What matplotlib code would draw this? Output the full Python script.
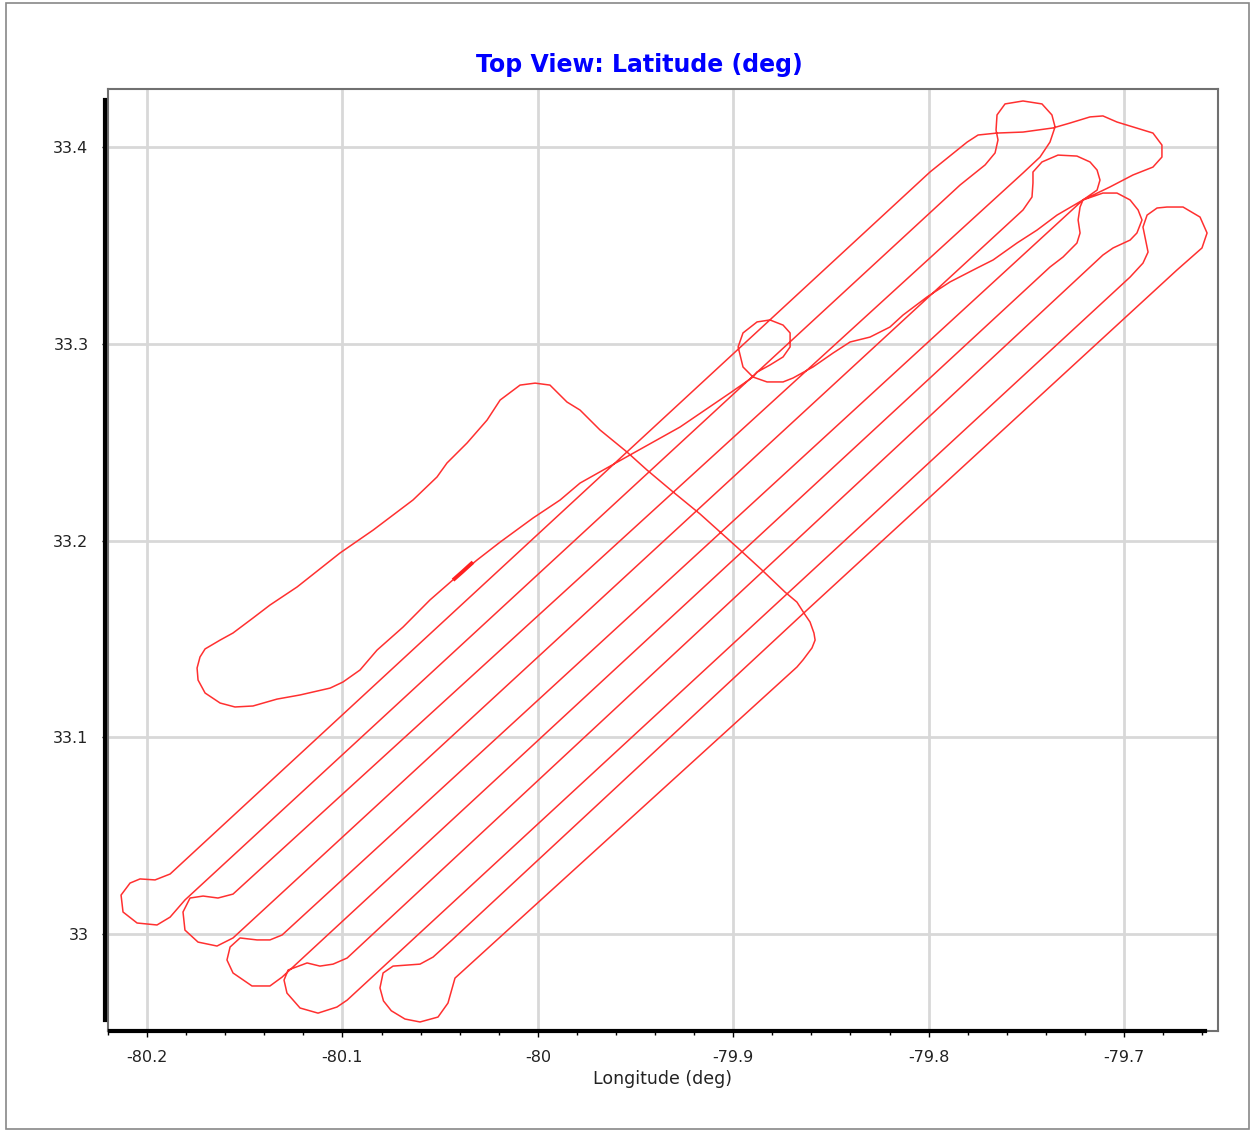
import matplotlib
matplotlib.use("Agg")
import matplotlib.pyplot as plt
from matplotlib.ticker import MultipleLocator, FormatStrFormatter
from matplotlib.patches import Rectangle

# flight track (deg)
lon = [-80.0424, -80.0552, -80.0690, -80.0823, -80.0910, -80.0997, -80.1063, -80.1217, -80.1335, -80.1458,
       -80.1550, -80.1626, -80.1703, -80.1739, -80.1744, -80.1729, -80.1703, -80.1626, -80.1560, -80.1458,
       -80.1371, -80.1232, -80.1012, -80.0843, -80.0639, -80.0516, -80.0465, -80.0362, -80.0260, -80.0193,
       -80.0091, -80.0014, -79.9938, -79.9851, -79.9784, -79.9682, -79.9544, -79.9441, -79.9308, -79.9170,
       -79.8965, -79.8853, -79.8735, -79.8674, -79.8638, -79.8607, -79.8587, -79.8581, -79.8597, -79.8643,
       -79.8674,
       -80.0362, -80.0424, -80.0460, -80.0511, -80.0603, -80.0680, -80.0750, -80.0790, -80.0808, -80.0792,
       -80.0741, -80.0603, -80.0536, -80.0439,
       -79.8633, -79.6729, -79.6601, -79.6575, -79.6611, -79.6698, -79.6780, -79.6831, -79.6882, -79.6903,
       -79.6877, -79.6903, -79.6969,
       -80.0976, -80.1028, -80.1125, -80.1217, -80.1284, -80.1299, -80.1278, -80.1181, -80.1115, -80.1048,
       -80.0976,
       -79.7108, -79.7056, -79.6969, -79.6934, -79.6908, -79.6928, -79.6969, -79.7036, -79.7108, -79.7210,
       -79.7225, -79.7235, -79.7225, -79.7241, -79.7312, -79.7379,
       -80.1309, -80.1371, -80.1463, -80.1560, -80.1591, -80.1575, -80.1524, -80.1437, -80.1371, -80.1309,
       -79.7210, -79.7138, -79.7123, -79.7138, -79.7174, -79.7241, -79.7338, -79.7420, -79.7466, -79.7466,
       -79.7471, -79.7517,
       -80.1560, -80.1642, -80.1739, -80.1806, -80.1816, -80.1780, -80.1713, -80.1637, -80.1560,
       -79.7517, -79.7430, -79.7379, -79.7353, -79.7369, -79.7420, -79.7517, -79.7609, -79.7650, -79.7655,
       -79.7645, -79.7660, -79.7711, -79.7839,
       -80.1806, -80.1882, -80.1949, -80.2051, -80.2123, -80.2133, -80.2087, -80.2036, -80.1959, -80.1882,
       -79.7993, -79.7803, -79.7747, -79.7650, -79.7517, -79.7363, -79.7276, -79.7174, -79.7108, -79.7036,
       -79.6852, -79.6806, -79.6806, -79.6852, -79.6954, -79.7072, -79.7210, -79.7343, -79.7445, -79.7548,
       -79.7670, -79.7752, -79.7891, -79.8008, -79.8131, -79.8198, -79.8300, -79.8402, -79.8489, -79.8592,
       -79.8694, -79.8745, -79.8827, -79.8899,
       -79.8950, -79.8975, -79.8950, -79.8878, -79.8812, -79.8745, -79.8709, -79.8709, -79.8745, -79.8812,
       -79.8878, -79.8899,
       -79.9016, -79.9272, -79.9528, -79.9784, -79.9886, -80.0025, -80.0193, -80.0311, -80.0424]
lat = [33.1809, 33.1698, 33.1560, 33.1443, 33.1342, 33.1281, 33.1250, 33.1215, 33.1194, 33.1159,
       33.1154, 33.1174, 33.1225, 33.1291, 33.1352, 33.1408, 33.1449, 33.1494, 33.1530, 33.1606,
       33.1672, 33.1764, 33.1937, 33.2053, 33.2206, 33.2323, 33.2394, 33.2496, 33.2612, 33.2714,
       33.2790, 33.2800, 33.2790, 33.2704, 33.2663, 33.2562, 33.2450, 33.2358, 33.2247, 33.2135,
       33.1952, 33.1850, 33.1738, 33.1687, 33.1631, 33.1586, 33.1530, 33.1494, 33.1454, 33.1393,
       33.1357,
       32.9832, 32.9776, 32.9649, 32.9578, 32.9553, 32.9568, 32.9610, 32.9660, 32.9726, 32.9802,
       32.9837, 32.9847, 32.9883, 32.9970,
       33.1637, 33.3375, 33.3487, 33.3563, 33.3644, 33.3695, 33.3695, 33.3690, 33.3654, 33.3593,
       33.3466, 33.3410, 33.3339,
       32.9664, 32.9629, 32.9598, 32.9624, 32.9700, 32.9766, 32.9817, 32.9853, 32.9837, 32.9847,
       32.9878,
       33.3451, 33.3487, 33.3527, 33.3563, 33.3629, 33.3680, 33.3731, 33.3766, 33.3766, 33.3731,
       33.3695, 33.3629, 33.3563, 33.3512, 33.3441, 33.3390,
       32.9781, 32.9736, 32.9736, 32.9802, 32.9868, 32.9934, 32.9980, 32.9970, 32.9970, 32.9995,
       33.3731, 33.3781, 33.3832, 33.3883, 33.3924, 33.3954, 33.3959, 33.3924, 33.3873, 33.3817,
       33.3746, 33.3680,
       32.9980, 32.9939, 32.9959, 33.0020, 33.0112, 33.0183, 33.0193, 33.0183, 33.0203,
       33.3868, 33.3949, 33.4025, 33.4102, 33.4163, 33.4219, 33.4234, 33.4219, 33.4163, 33.4086,
       33.4036, 33.3970, 33.3909, 33.3807,
       33.0173, 33.0086, 33.0046, 33.0056, 33.0112, 33.0198, 33.0259, 33.0280, 33.0275, 33.0305,
       33.3873, 33.4025, 33.4061, 33.4071, 33.4076, 33.4097, 33.4122, 33.4153, 33.4158, 33.4127,
       33.4071, 33.4010, 33.3949, 33.3898, 33.3858, 33.3797, 33.3731, 33.3654, 33.3578, 33.3512,
       33.3426, 33.3385, 33.3314, 33.3238, 33.3146, 33.3085, 33.3034, 33.3009, 33.2953, 33.2882,
       33.2826, 33.2806, 33.2806, 33.2831,
       33.2882, 33.2984, 33.3055, 33.3111, 33.3121, 33.3095, 33.3055, 33.2984, 33.2933, 33.2892,
       33.2856, 33.2831,
       33.2750, 33.2577, 33.2435, 33.2292, 33.2206, 33.2114, 33.1992, 33.1901, 33.1809]

# short thick piece near the start
start_lon = [-80.0434, -80.0385, -80.0332]
start_lat = [33.1799, 33.1842, 33.1890]

plt.rcParams['font.family'] = ['DejaVu Sans']
plt.rcParams['axes.unicode_minus'] = False

fig = plt.figure(figsize=(12.54, 11.32), dpi=100)
fig.patches.append(Rectangle((0.005, 0.003), 0.991, 0.994, transform=fig.transFigure,
                             fill=False, edgecolor='#888888', linewidth=1.2))

ax = fig.add_axes([0.0861, 0.0892, 0.8852, 0.8322])
ax.plot(lon, lat, color='#ff3030', lw=1.1)
ax.plot(start_lon, start_lat, color='#ff2020', lw=2.8, solid_capstyle='butt')

ax.set_xlim(-80.2200, -79.6519)
ax.set_ylim(32.9507, 33.4295)

ax.xaxis.set_major_locator(MultipleLocator(0.1))
ax.xaxis.set_minor_locator(MultipleLocator(0.02))
ax.yaxis.set_major_locator(MultipleLocator(0.1))
ax.yaxis.set_minor_locator(MultipleLocator(0.02))
ax.xaxis.set_major_formatter(FormatStrFormatter('%g'))
ax.yaxis.set_major_formatter(FormatStrFormatter('%g'))

ax.grid(True, which='major', color='#d8d8d8', lw=2)
ax.set_axisbelow(True)
for s in ax.spines.values():
    s.set_color('#707070')
    s.set_linewidth(1.5)

ax.tick_params(which='both', direction='out', color='black', labelsize=11.5, labelcolor='#222222')
ax.tick_params(which='major', length=4, width=1, pad=10)
ax.tick_params(which='minor', length=3, width=1)

# thick black axis lines like the original viewer
ax.plot([-0.003, -0.003], [0.012, 0.988], transform=ax.transAxes, color='black', lw=3,
        clip_on=False, zorder=6)
ax.plot([0.002, 0.988], [0.0, 0.0], transform=ax.transAxes, color='black', lw=3,
        clip_on=False, zorder=6)

ax.set_xlabel('Longitude (deg)', fontsize=12.5, color='#222222', labelpad=3)
fig.text(0.510, 0.9426, 'Top View: Latitude (deg)', color='#0000ff', fontsize=17,
         fontweight='bold', ha='center', va='center')

fig.savefig('out.png', dpi=100)
